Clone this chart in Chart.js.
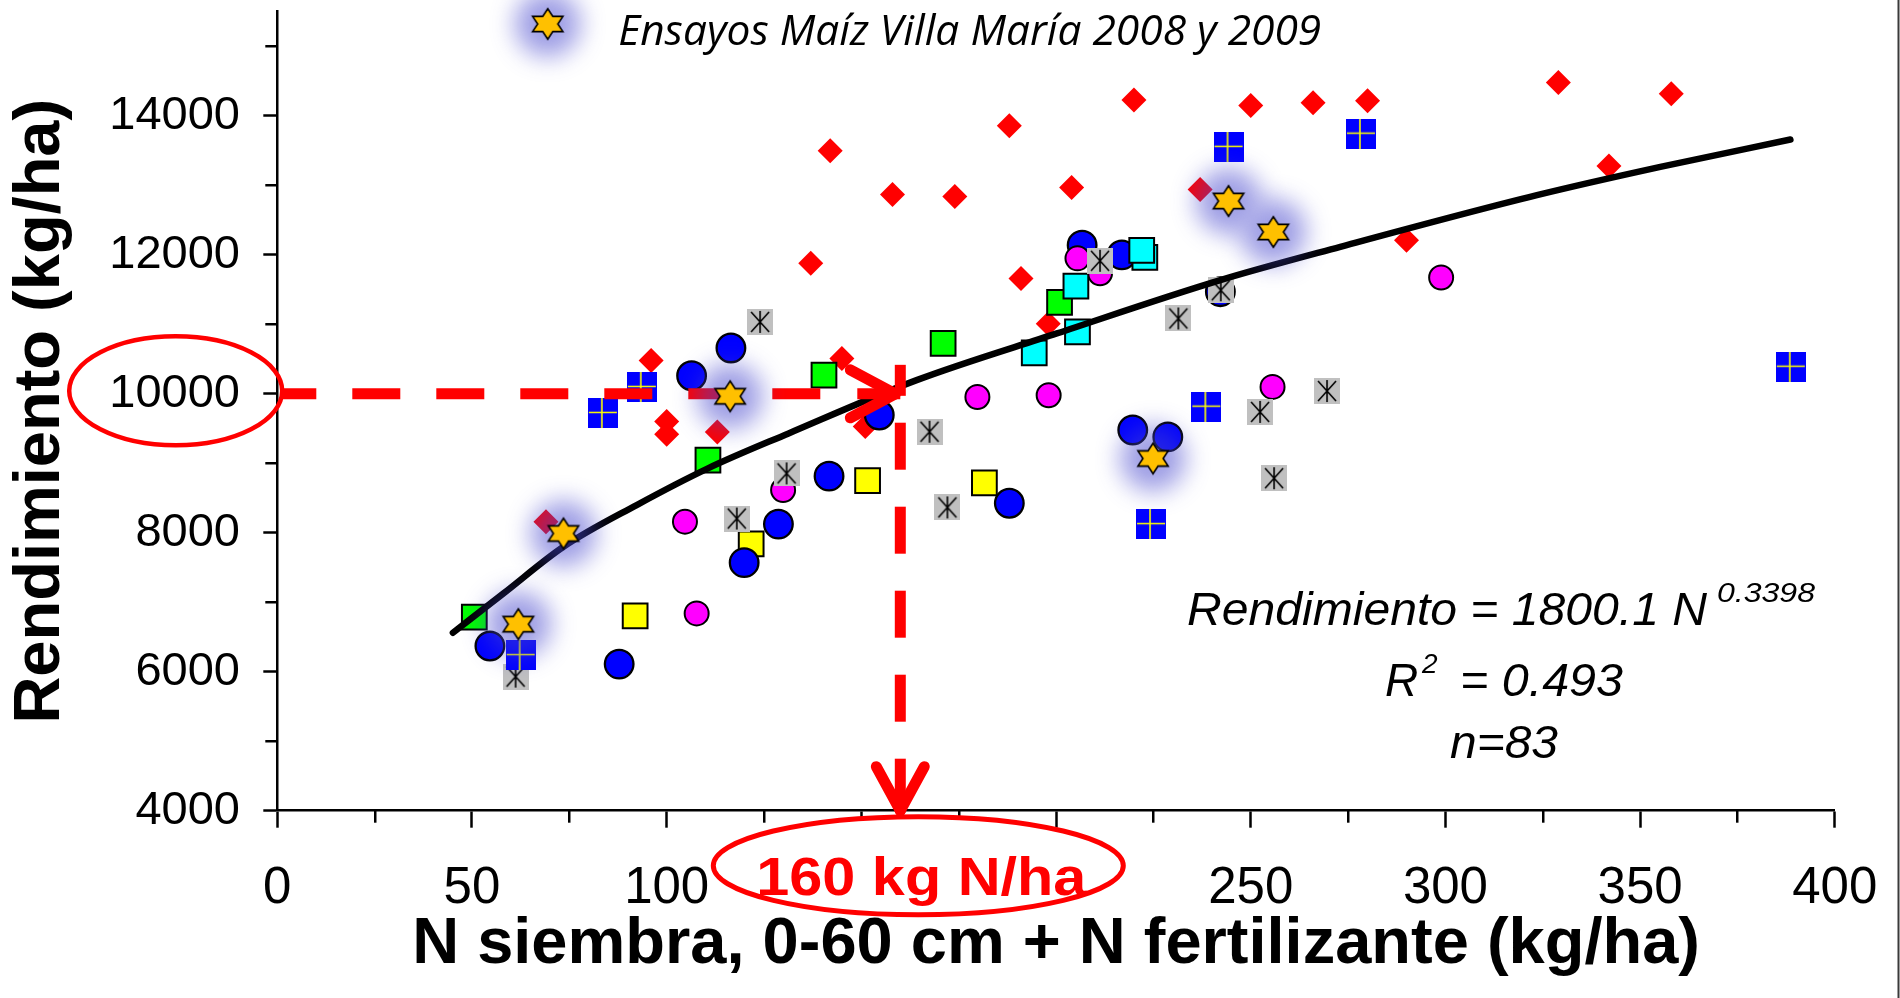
<!DOCTYPE html>
<html lang="es">
<head>
<meta charset="utf-8">
<title>Rendimiento de maíz según N disponible</title>
<script src="https://cdn.jsdelivr.net/npm/chart.js@4.4.1/dist/chart.umd.min.js"></script>
<style>
  html, body { margin: 0; padding: 0; background: #fff; overflow: hidden; }
  canvas { display: block; }
</style>
</head>
<body>
<canvas id="chart" width="1900" height="998"></canvas>
<script>
// ---------- data: N available (kg/ha) and grain yield (kg/ha) by site group ----------
const N_RED = [96, 100, 100, 113, 69, 142, 188, 220, 250, 158, 174, 204, 137, 191, 198, 145, 237, 151, 266, 280, 329, 358, 342, 290];
const Y_RED = [10480, 9600, 9420, 9450, 8160, 13500, 13860, 14230, 14150, 12870, 12840, 12970, 11880, 11660, 11010, 10510, 12940, 9530, 14190, 14220, 14480, 14320, 13280, 12210];

const N_BLUE = [106.4, 116.5, 54.6, 87.8, 119.9, 128.7, 154.6, 141.7, 188, 219.7, 228.7, 206.7, 216.9, 242.2];
const Y_BLUE = [10260, 10660, 6370, 6110, 7570, 8125, 9695, 8815, 8425, 9480, 9380, 12140, 12000, 11470];

const N_MAGENTA = [104.7, 107.7, 129.9, 179.8, 198.1, 205.5, 211.3, 255.6, 298.9];
const Y_MAGENTA = [8160, 6840, 8615, 9955, 9980, 11950, 11735, 10100, 11675];

const N_YELLOW = [91.9, 121.7, 151.6, 181.6];
const Y_YELLOW = [6805, 7840, 8750, 8720];

const N_GREEN = [50.6, 110.6, 140.4, 171, 200.9];
const Y_GREEN = [6785, 9045, 10270, 10725, 11315];

const N_CYAN = [194.4, 205.5, 205.1, 222.8, 222];
const Y_CYAN = [10590, 10890, 11550, 11965, 12065];

const N_GRAY = [124, 118, 61.2, 130.8, 167.5, 172.1, 252.4, 256, 211.3, 231.4, 242.3, 269.6];
const Y_GRAY = [11035, 8205, 5930, 8855, 9455, 8365, 9740, 8785, 11915, 11085, 11490, 10040];

const N_CROSS = [83.6, 93.6, 62.5, 224.4, 238.6, 244.3, 278.3, 388.7];
const Y_CROSS = [9725, 10100, 6240, 8125, 9815, 13555, 13745, 10390];

const N_STAR = [73.5, 61.9, 116.3, 224.9, 244.3, 255.8];
const Y_STAR = [7990, 6685, 9965, 9070, 12775, 12330];

// fitted power curve, traced along its drawn path
const TREND_N = [45.1, 58.1, 73.5, 92.3, 110.6, 131.3, 164.2, 200.2, 242.2, 273, 323.5, 355.2, 388.6];
const TREND_Y = [6561, 7128, 7799, 8399, 8927, 9430, 10197, 10869, 11636, 12115, 12859, 13266, 13660];

// axis ticks
const X_TICKS = [0, 50, 100, 150, 200, 250, 300, 350, 400];
const X_TICKS_UNDER_CALLOUT = [150, 200];   // labels hidden behind the N callout
const X_MINOR = [25, 75, 125, 175, 225, 275, 325, 375];
const Y_TICKS = [4000, 6000, 8000, 10000, 12000, 14000];
const Y_MINOR = [5000, 7000, 9000, 11000, 13000, 15000];

// reading of the optimum
const TARGET_N = 160;
const TARGET_YIELD = 10000;

// texts
const TITLE_X = 'N siembra, 0-60 cm + N fertilizante (kg/ha)';
const TITLE_Y = 'Rendimiento (kg/ha)';
const LEGEND_TEXT = 'Ensayos Maíz Villa María 2008 y 2009';
const EQ_MAIN = 'Rendimiento = 1800.1 N';
const EQ_EXP = '0.3398';
const R2_TEXT = '= 0.493';
const N_TEXT = 'n=83';
const TARGET_LABEL = TARGET_N + ' kg N/ha';

// ---------- styling ----------
const FONT = '"Liberation Sans", Arial, Helvetica, sans-serif';
const RED = '#FF0000';

function makeStar() {
  const c = document.createElement('canvas');
  c.width = 36; c.height = 36;
  const g = c.getContext('2d');
  const R = 15.2, r = R / Math.sqrt(3), sx = 1.15;
  g.beginPath();
  for (let k = 0; k < 12; k++) {
    const a = (-90 + k * 30) * Math.PI / 180;
    const rr = k % 2 === 0 ? R : r;
    const px = 18 + Math.cos(a) * rr * sx, py = 18 + Math.sin(a) * rr;
    if (k === 0) g.moveTo(px, py); else g.lineTo(px, py);
  }
  g.closePath();
  g.fillStyle = '#FFC000';
  g.fill();
  g.lineWidth = 1.6;
  g.strokeStyle = '#000';
  g.stroke();
  return c;
}

function makeCrossBox() {
  const c = document.createElement('canvas');
  c.width = 30; c.height = 30;
  const g = c.getContext('2d');
  g.fillStyle = '#0000FF';
  g.fillRect(0, 0, 30, 30);
  g.strokeStyle = '#FFFF00';
  g.lineWidth = 1.6;
  g.beginPath();
  g.moveTo(1, 14.5); g.lineTo(29, 14.5);
  g.moveTo(14, 0); g.lineTo(14, 30);
  g.stroke();
  return c;
}

function makeAsteriskBox() {
  const c = document.createElement('canvas');
  c.width = 26; c.height = 26;
  const g = c.getContext('2d');
  g.fillStyle = '#C0C0C0';
  g.fillRect(0, 0, 26, 26);
  g.strokeStyle = '#000';
  g.lineWidth = 1.6;
  g.beginPath();
  g.moveTo(13, 2); g.lineTo(13, 24);
  g.moveTo(4, 3); g.lineTo(22, 23);
  g.moveTo(22, 3); g.lineTo(4, 23);
  g.stroke();
  return c;
}

const starImg = makeStar();
const crossImg = makeCrossBox();
const asteriskImg = makeAsteriskBox();

const pts = (xs, ys) => xs.map((x, i) => ({ x, y: ys[i] }));

// text squeezed/stretched horizontally to a given width
function fitText(ctx, text, x, y, width, font, color, align) {
  ctx.save();
  ctx.font = font;
  ctx.fillStyle = color;
  ctx.textBaseline = 'alphabetic';
  ctx.textAlign = 'left';
  const w = ctx.measureText(text).width;
  const s = width / w;
  const left = align === 'center' ? x - width / 2 : x;
  ctx.translate(left, y);
  ctx.scale(s, 1);
  ctx.fillText(text, 0, 0);
  ctx.restore();
}

function line(ctx, x1, y1, x2, y2) {
  ctx.beginPath();
  ctx.moveTo(x1, y1);
  ctx.lineTo(x2, y2);
  ctx.stroke();
}

function legendStarPos(area) {
  return { x: area.left + 270.4, y: area.top + 12.3 };
}

// dashed arrows reading the curve, then the soft halo behind the star markers
function drawArrowsAndHalo(chart) {
  const ctx = chart.ctx;
  const area = chart.chartArea;
  const xs = chart.scales.x, ys = chart.scales.y;
  const px = xs.getPixelForValue(TARGET_N);
  const py = ys.getPixelForValue(TARGET_YIELD);

  ctx.save();
  ctx.strokeStyle = RED;
  ctx.lineWidth = 11;
  ctx.lineCap = 'butt';

  // horizontal dashes toward the curve
  line(ctx, px - 43, py, px, py);
  for (let end = px - 80; end > area.left; end -= 84) {
    const start = Math.max(end - 48, area.left + 3);
    if (end - start > 2) line(ctx, start, py, end, py);
  }
  ctx.lineCap = 'round';
  ctx.lineJoin = 'round';
  line(ctx, px - 50, py - 24, px - 5, py);
  line(ctx, px - 50, py + 24, px - 5, py);

  // vertical dashes down to the N axis
  ctx.lineCap = 'butt';
  line(ctx, px, py - 29, px, py + 2);
  const stemTop = area.bottom - 52;
  line(ctx, px, stemTop, px, area.bottom - 4);
  for (let end = stemTop - 37; end - 47 > py + 20; end -= 84) {
    line(ctx, px, end - 47, px, end);
  }
  ctx.lineCap = 'round';
  line(ctx, px - 24, area.bottom - 44, px, area.bottom);
  line(ctx, px + 24, area.bottom - 44, px, area.bottom);
  ctx.restore();

  // halo
  const off = document.createElement('canvas');
  off.width = chart.width; off.height = chart.height;
  const g = off.getContext('2d');
  g.filter = 'blur(12px)';
  g.fillStyle = 'rgb(70,70,205)';
  const centers = N_STAR.map((n, i) => [xs.getPixelForValue(n), ys.getPixelForValue(Y_STAR[i])]);
  const ls = legendStarPos(area);
  centers.push([ls.x, ls.y]);
  centers.forEach(([x, y]) => {
    g.beginPath();
    g.arc(x, y, 33, 0, Math.PI * 2);
    g.fill();
  });
  ctx.save();
  ctx.globalAlpha = 0.52;
  ctx.drawImage(off, 0, 0);
  ctx.restore();
}

const overlayPlugin = {
  id: 'overlay',
  beforeDatasetDraw(chart, args) {
    if (chart.data.datasets[args.index].label === LEGEND_TEXT) drawArrowsAndHalo(chart);
  },
  afterDraw(chart) {
    const ctx = chart.ctx;
    const area = chart.chartArea;
    const xs = chart.scales.x, ys = chart.scales.y;

    // minor ticks
    ctx.save();
    ctx.strokeStyle = '#000';
    ctx.lineWidth = 2.5;
    X_MINOR.forEach(v => {
      const x = Math.round(xs.getPixelForValue(v)) + 0.25;
      line(ctx, x, area.bottom, x, area.bottom + 12);
    });
    Y_MINOR.forEach(v => {
      const y = Math.round(ys.getPixelForValue(v)) + 0.25;
      line(ctx, area.left - 12, y, area.left, y);
    });
    ctx.restore();

    // ellipse around the yield tick
    const py = ys.getPixelForValue(TARGET_YIELD);
    ctx.save();
    ctx.strokeStyle = RED;
    ctx.lineWidth = 4.5;
    ctx.beginPath();
    ctx.ellipse(area.left - 101.6, py - 3, 106.5, 54.5, 0, 0, Math.PI * 2);
    ctx.stroke();

    // ellipse with the N reading under the axis
    const px = xs.getPixelForValue(TARGET_N);
    const ex = px + 18, ey = area.bottom + 55;
    ctx.fillStyle = '#fff';
    ctx.lineWidth = 5;
    ctx.beginPath();
    ctx.ellipse(ex, ey, 205, 49, 0, 0, Math.PI * 2);
    ctx.fill();
    ctx.stroke();
    ctx.restore();
    fitText(ctx, TARGET_LABEL, ex + 3, area.bottom + 84, 330, 'bold 54px ' + FONT, RED, 'center');

    // equation block
    const eqFont = 'italic 46px ' + FONT;
    const supFont = 'italic 28px ' + FONT;
    fitText(ctx, EQ_MAIN, 1187, 625, 520, eqFont, '#000');
    fitText(ctx, EQ_EXP, 1717, 602, 98, supFont, '#000');
    ctx.save();
    ctx.font = eqFont;
    ctx.fillStyle = '#000';
    ctx.textBaseline = 'alphabetic';
    ctx.fillText('R', 1385, 696);
    ctx.font = supFont;
    ctx.fillText('2', 1422, 673);
    ctx.restore();
    fitText(ctx, R2_TEXT, 1460, 696, 163, eqFont, '#000');
    fitText(ctx, N_TEXT, 1450, 758, 108, eqFont, '#000');

    // legend entry for the highlighted trials
    const ls = legendStarPos(area);
    ctx.drawImage(starImg, ls.x - 18, ls.y - 18);
    fitText(ctx, LEGEND_TEXT, ls.x + 70.5, area.top + 33.5, 703, 'italic 42px "Open Sans", "Noto Sans", sans-serif', '#000');

    // frame edge on the right
    ctx.save();
    ctx.fillStyle = '#3a3a3a';
    ctx.fillRect(chart.width - 2.5, 0, 2, chart.height);
    ctx.restore();
  }
};

Chart.defaults.color = '#000';
Chart.defaults.font.family = FONT;

new Chart(document.getElementById('chart'), {
  type: 'scatter',
  data: {
    datasets: [
      { label: LEGEND_TEXT, data: pts(N_STAR, Y_STAR), pointStyle: starImg, pointRadius: 16, order: 0 },
      { label: 'Ajuste potencial', type: 'line', data: pts(TREND_N, TREND_Y), borderColor: '#000', borderWidth: 6.5,
        pointRadius: 0, tension: 0.4, cubicInterpolationMode: 'monotone', fill: false,
        borderCapStyle: 'round', borderJoinStyle: 'round', order: 1 },
      { label: 'Grupo azul cruz', data: pts(N_CROSS, Y_CROSS), pointStyle: crossImg, pointRadius: 15, order: 2 },
      { label: 'Grupo gris', data: pts(N_GRAY, Y_GRAY), pointStyle: asteriskImg, pointRadius: 13, order: 3 },
      { label: 'Grupo celeste', data: pts(N_CYAN, Y_CYAN), pointStyle: 'rect', pointRadius: 17.5,
        backgroundColor: '#00FFFF', borderColor: '#000', borderWidth: 2, order: 4 },
      { label: 'Grupo magenta', data: pts(N_MAGENTA, Y_MAGENTA), pointStyle: 'circle', pointRadius: 12,
        backgroundColor: '#FF00FF', borderColor: '#000', borderWidth: 2, order: 5 },
      { label: 'Grupo azul', data: pts(N_BLUE, Y_BLUE), pointStyle: 'circle', pointRadius: 14.3,
        backgroundColor: '#0000FF', borderColor: '#000', borderWidth: 2.3, order: 6 },
      { label: 'Grupo verde', data: pts(N_GREEN, Y_GREEN), pointStyle: 'rect', pointRadius: 17.5,
        backgroundColor: '#00FF00', borderColor: '#000', borderWidth: 2, order: 7 },
      { label: 'Grupo amarillo', data: pts(N_YELLOW, Y_YELLOW), pointStyle: 'rect', pointRadius: 17.5,
        backgroundColor: '#FFFF00', borderColor: '#000', borderWidth: 2, order: 8 },
      { label: 'Grupo rojo', data: pts(N_RED, Y_RED), pointStyle: 'rectRot', pointRadius: 12.5,
        backgroundColor: '#FF0000', borderWidth: 0, order: 9 }
    ]
  },
  options: {
    responsive: false,
    animation: false,
    devicePixelRatio: 1,
    events: [],
    layout: { autoPadding: false, padding: { top: 11.7, right: 65.2, bottom: 0, left: 0 } },
    plugins: { legend: { display: false }, tooltip: { enabled: false } },
    scales: {
      x: {
        type: 'linear', position: 'bottom', min: 0, max: 400,
        afterBuildTicks: s => { s.ticks = X_TICKS.map(v => ({ value: v })); },
        afterFit: s => { s.height = 187.3; s.paddingLeft = 0; s.paddingRight = 0; s.paddingTop = 0; s.paddingBottom = 0; },
        grid: { drawOnChartArea: false, drawTicks: true, tickLength: 17, tickWidth: 2.5, tickColor: '#000' },
        border: { display: true, color: '#000', width: 2.5 },
        ticks: { padding: 31, maxRotation: 0, autoSkip: false, color: '#000',
                 font: { family: FONT, size: 51, lineHeight: 1.2 },
                 callback: v => (X_TICKS_UNDER_CALLOUT.includes(v) ? '' : String(v)) },
        title: { display: true, text: TITLE_X, color: '#000',
                 font: { family: FONT, size: 65, weight: 'bold', lineHeight: 1 }, padding: { top: 0, bottom: 20 } }
      },
      y: {
        type: 'linear', position: 'left', min: 4000, max: 15500,
        afterBuildTicks: s => { s.ticks = Y_TICKS.map(v => ({ value: v })); },
        afterFit: s => { s.width = 277.3; s.paddingLeft = 0; s.paddingRight = 0; s.paddingTop = 0; s.paddingBottom = 0; },
        grid: { drawOnChartArea: false, drawTicks: true, tickLength: 14, tickWidth: 2.5, tickColor: '#000' },
        border: { display: true, color: '#000', width: 2.5 },
        ticks: { padding: 23.3, color: '#000', font: { family: FONT, size: 47 }, callback: v => String(v) },
        title: { display: true, text: TITLE_Y, color: '#000',
                 font: { family: FONT, size: 65, weight: 'bold', lineHeight: 1 }, padding: { top: 9, bottom: 0 } }
      }
    }
  },
  plugins: [overlayPlugin]
});
</script>
</body>
</html>
